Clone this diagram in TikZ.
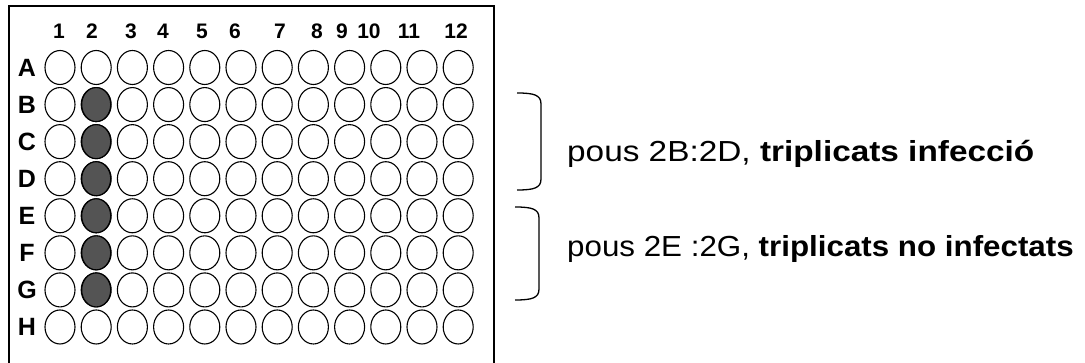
\documentclass[tikz,border=0pt]{standalone}
\usepackage{fontspec}
\setmainfont{Liberation Sans}
\begin{document}
\begin{tikzpicture}[x=1pt,y=-1pt,
  well/.style={draw=black,line width=1.1pt,fill=white},
  filled/.style={draw=black,line width=1.1pt,fill=black!67},
  collab/.style={font=\fontsize{21}{21}\selectfont\bfseries,inner sep=0pt},
  rowlab/.style={font=\fontsize{25}{25}\selectfont\bfseries,inner sep=0pt},
  note/.style={anchor=base west,inner sep=0pt,font=\fontsize{29}{29}\selectfont},
  bracket/.style={line width=1.3pt}]
\useasboundingbox (0,0) rectangle (1085,363);
\fill[white] (0,0) rectangle (1085,363);
% plate frame
\draw[line width=2pt] (9,370) -- (9,6) -- (494,6) -- (494,370);
% column labels
\foreach \lab/\xx in {1/59,2/92,3/131,4/163,5/202,6/235,7/280,8/317,9/342,10/369,11/409,12/456}
  \node[collab] (c\lab) at (\xx,31) {\lab};
% row labels and wells
\foreach \r [count=\j from 0] in {A,B,C,D,E,F,G,H}{
  \node[rowlab] (r\r) at (27,{67.5+\j*37.07}) {\r};
  \foreach \c in {1,...,12}{
    \pgfmathsetmacro{\cx}{60+(\c-1)*36.2}
    \pgfmathsetmacro{\cy}{67.5+\j*37.07}
    \draw[well] (\cx,\cy) ellipse [x radius=15, y radius=17];
  }
}
\foreach \j in {1,...,6}{
  \draw[filled] ({60+36.2},{67.5+\j*37.07}) ellipse [x radius=14.5, y radius=17];
}
% brackets
\coordinate (b1t) at (517,93);
\coordinate (b1b) at (517,190);
\draw[bracket] (b1t) .. controls (534,93) and (541,95) .. (541,104) -- (541,179) .. controls (541,188) and (534,190) .. (b1b);
\coordinate (b2t) at (515,207);
\coordinate (b2b) at (515,300);
\draw[bracket] (b2t) .. controls (532,207) and (539,209) .. (539,218) -- (539,289) .. controls (539,298) and (532,300) .. (b2b);
% notes
\node[note] (t1) at (567,162) {\scalebox{1.15}[1]{pous 2B:2D, \textbf{triplicats infecció}}};
\node[note] (t2) at (567,257) {\scalebox{1.08}[1]{pous 2E :2G, \textbf{triplicats no infectats}}};
\end{tikzpicture}
\end{document}
